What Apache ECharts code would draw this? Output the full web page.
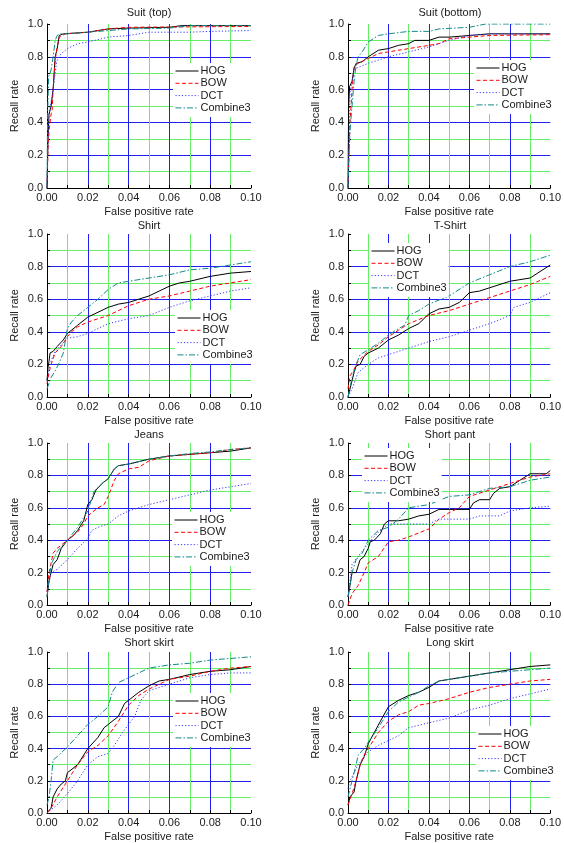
<!DOCTYPE html>
<html>
<head>
<meta charset="utf-8">
<script src="https://cdn.jsdelivr.net/npm/echarts@6/dist/echarts.min.js"></script>
<style>html,body{margin:0;padding:0;background:#fff}#c{width:564px;height:843px}</style>
</head>
<body>
<div id="c"></div>
<script>
const seriesNames = ['HOG', 'BOW', 'DCT', 'Combine3'];
const panelTitles = ['Suit (top)', 'Suit (bottom)', 'Shirt', 'T-Shirt', 'Jeans', 'Short pant', 'Short skirt', 'Long skirt'];
const xTickLabels = ['0.00', '', '0.02', '', '0.04', '', '0.06', '', '0.08', '', '0.10'];
const yTickLabels = ['0.0', '', '0.2', '', '0.4', '', '0.6', '', '0.8', '', '1.0'];

// Suit (top)
const suitTopHOG = [[0,0],[0.0005,0.3],[0.001,0.45],[0.002,0.5],[0.003,0.6],[0.004,0.8],[0.005,0.85],[0.006,0.93],[0.008,0.94],[0.02,0.95],[0.03,0.97],[0.04,0.975],[0.06,0.98],[0.066,0.99],[0.1,0.99]];
const suitTopBOW = [[0,0],[0.0005,0.25],[0.001,0.35],[0.002,0.45],[0.0025,0.47],[0.003,0.6],[0.004,0.78],[0.005,0.86],[0.006,0.92],[0.009,0.94],[0.02,0.95],[0.03,0.97],[0.04,0.98],[0.1,0.985]];
const suitTopDCT = [[0,0],[0.0005,0.3],[0.001,0.45],[0.003,0.6],[0.0045,0.75],[0.005,0.78],[0.007,0.82],[0.01,0.85],[0.015,0.88],[0.02,0.89],[0.03,0.92],[0.04,0.93],[0.05,0.95],[0.07,0.95],[0.08,0.955],[0.1,0.96]];
const suitTopC3 = [[0,0],[0.0003,0.45],[0.0008,0.68],[0.0015,0.7],[0.002,0.72],[0.003,0.8],[0.004,0.9],[0.005,0.93],[0.006,0.94],[0.01,0.94],[0.02,0.95],[0.03,0.96],[0.04,0.97],[0.06,0.975],[0.07,0.99],[0.1,0.99]];
// Suit (bottom)
const suitBotHOG = [[0,0],[0.0003,0.5],[0.0008,0.62],[0.002,0.65],[0.003,0.73],[0.004,0.76],[0.007,0.77],[0.01,0.8],[0.015,0.84],[0.02,0.85],[0.025,0.87],[0.03,0.88],[0.033,0.9],[0.04,0.9],[0.045,0.92],[0.05,0.92],[0.06,0.93],[0.07,0.94],[0.1,0.94]];
const suitBotBOW = [[0,0],[0.0005,0.2],[0.001,0.4],[0.002,0.6],[0.003,0.74],[0.005,0.76],[0.01,0.79],[0.015,0.82],[0.02,0.83],[0.03,0.85],[0.04,0.87],[0.045,0.88],[0.05,0.91],[0.06,0.92],[0.07,0.93],[0.1,0.935]];
const suitBotDCT = [[0,0],[0.0005,0.3],[0.001,0.58],[0.002,0.65],[0.003,0.72],[0.004,0.73],[0.01,0.76],[0.02,0.8],[0.03,0.83],[0.04,0.86],[0.045,0.88],[0.05,0.9],[0.06,0.93],[0.07,0.94],[0.1,0.94]];
const suitBotC3 = [[0,0],[0.0005,0.2],[0.001,0.35],[0.002,0.5],[0.003,0.65],[0.004,0.75],[0.005,0.8],[0.007,0.83],[0.01,0.89],[0.015,0.93],[0.02,0.94],[0.03,0.955],[0.04,0.955],[0.045,0.97],[0.06,0.98],[0.068,1.0],[0.1,1.0]];
// Shirt
const shirtHOG = [[0,0.1],[0.0005,0.18],[0.001,0.22],[0.0015,0.27],[0.003,0.28],[0.005,0.31],[0.008,0.35],[0.01,0.39],[0.015,0.44],[0.02,0.49],[0.025,0.52],[0.03,0.55],[0.035,0.57],[0.04,0.58],[0.045,0.6],[0.05,0.62],[0.055,0.65],[0.06,0.68],[0.065,0.7],[0.07,0.71],[0.08,0.74],[0.09,0.76],[0.1,0.77]];
const shirtBOW = [[0,0.08],[0.001,0.15],[0.002,0.2],[0.004,0.27],[0.007,0.31],[0.01,0.37],[0.012,0.4],[0.015,0.43],[0.02,0.46],[0.03,0.5],[0.04,0.56],[0.05,0.6],[0.06,0.62],[0.07,0.65],[0.08,0.68],[0.09,0.7],[0.1,0.72]];
const shirtDCT = [[0,0.1],[0.001,0.17],[0.002,0.22],[0.004,0.28],[0.007,0.32],[0.01,0.36],[0.015,0.37],[0.02,0.39],[0.025,0.42],[0.03,0.45],[0.04,0.48],[0.05,0.5],[0.06,0.55],[0.07,0.59],[0.08,0.62],[0.09,0.65],[0.1,0.67]];
const shirtC3 = [[0,0.05],[0.002,0.12],[0.004,0.16],[0.006,0.21],[0.008,0.27],[0.01,0.42],[0.012,0.46],[0.015,0.5],[0.02,0.55],[0.025,0.6],[0.03,0.66],[0.035,0.7],[0.04,0.71],[0.05,0.73],[0.06,0.75],[0.07,0.78],[0.08,0.79],[0.09,0.81],[0.1,0.83]];
// T-Shirt
const tshirtHOG = [[0,0],[0.001,0.05],[0.002,0.1],[0.003,0.15],[0.004,0.19],[0.006,0.2],[0.008,0.25],[0.01,0.27],[0.015,0.3],[0.02,0.35],[0.025,0.38],[0.03,0.42],[0.035,0.45],[0.04,0.51],[0.045,0.54],[0.05,0.55],[0.055,0.58],[0.06,0.64],[0.065,0.65],[0.07,0.67],[0.08,0.71],[0.09,0.73],[0.1,0.81]];
const tshirtBOW = [[0,0.05],[0.001,0.13],[0.003,0.17],[0.005,0.22],[0.01,0.28],[0.015,0.32],[0.02,0.37],[0.03,0.45],[0.04,0.5],[0.05,0.53],[0.06,0.57],[0.07,0.61],[0.08,0.65],[0.09,0.69],[0.1,0.74]];
const tshirtDCT = [[0,0],[0.002,0.05],[0.005,0.15],[0.01,0.2],[0.015,0.24],[0.02,0.26],[0.03,0.3],[0.04,0.34],[0.05,0.37],[0.06,0.41],[0.07,0.45],[0.08,0.5],[0.082,0.55],[0.09,0.58],[0.1,0.64]];
const tshirtC3 = [[0,0],[0.002,0.12],[0.004,0.2],[0.006,0.26],[0.01,0.29],[0.015,0.33],[0.02,0.38],[0.025,0.42],[0.028,0.44],[0.03,0.5],[0.035,0.53],[0.04,0.57],[0.05,0.62],[0.06,0.7],[0.07,0.75],[0.08,0.8],[0.09,0.83],[0.1,0.87]];
// Jeans
const jeansHOG = [[0,0.05],[0.001,0.15],[0.002,0.2],[0.003,0.25],[0.005,0.28],[0.007,0.35],[0.01,0.4],[0.013,0.43],[0.015,0.46],[0.018,0.52],[0.02,0.62],[0.022,0.65],[0.024,0.71],[0.027,0.75],[0.03,0.78],[0.033,0.84],[0.035,0.86],[0.04,0.87],[0.05,0.9],[0.06,0.92],[0.07,0.93],[0.08,0.94],[0.09,0.95],[0.1,0.97]];
const jeansBOW = [[0,0.08],[0.001,0.2],[0.003,0.32],[0.005,0.35],[0.01,0.4],[0.015,0.45],[0.018,0.5],[0.02,0.55],[0.025,0.6],[0.028,0.62],[0.03,0.67],[0.033,0.77],[0.035,0.81],[0.04,0.84],[0.045,0.85],[0.05,0.89],[0.06,0.92],[0.07,0.93],[0.08,0.94],[0.09,0.96],[0.1,0.97]];
const jeansDCT = [[0,0.08],[0.002,0.2],[0.005,0.22],[0.01,0.28],[0.015,0.35],[0.02,0.41],[0.022,0.46],[0.025,0.48],[0.03,0.5],[0.035,0.55],[0.04,0.58],[0.05,0.62],[0.06,0.65],[0.07,0.68],[0.08,0.71],[0.09,0.73],[0.1,0.75]];
const jeansC3 = [[0,0.05],[0.002,0.25],[0.005,0.33],[0.01,0.4],[0.015,0.48],[0.02,0.58],[0.023,0.7],[0.027,0.75],[0.03,0.78],[0.033,0.84],[0.035,0.86],[0.04,0.87],[0.05,0.9],[0.06,0.92],[0.07,0.935],[0.08,0.945],[0.09,0.96],[0.1,0.97]];
// Short pant
const pantHOG = [[0,0.05],[0.001,0.12],[0.002,0.2],[0.004,0.2],[0.005,0.24],[0.006,0.28],[0.008,0.3],[0.01,0.35],[0.011,0.39],[0.013,0.4],[0.016,0.44],[0.018,0.5],[0.02,0.52],[0.025,0.52],[0.03,0.53],[0.035,0.55],[0.04,0.56],[0.045,0.59],[0.05,0.59],[0.06,0.59],[0.062,0.63],[0.065,0.65],[0.07,0.65],[0.072,0.69],[0.075,0.72],[0.08,0.73],[0.09,0.81],[0.098,0.81],[0.1,0.83]];
const pantBOW = [[0,0],[0.002,0.07],[0.005,0.12],[0.008,0.2],[0.01,0.26],[0.015,0.3],[0.02,0.39],[0.025,0.4],[0.03,0.42],[0.04,0.47],[0.045,0.53],[0.05,0.57],[0.055,0.6],[0.06,0.67],[0.07,0.71],[0.08,0.75],[0.09,0.79],[0.1,0.81]];
const pantDCT = [[0,0.05],[0.001,0.15],[0.002,0.25],[0.005,0.3],[0.01,0.38],[0.015,0.45],[0.02,0.5],[0.03,0.5],[0.04,0.5],[0.045,0.53],[0.05,0.53],[0.06,0.53],[0.065,0.55],[0.075,0.55],[0.08,0.58],[0.09,0.6],[0.1,0.61]];
const pantC3 = [[0,0.05],[0.002,0.2],[0.004,0.28],[0.007,0.32],[0.01,0.4],[0.015,0.46],[0.02,0.48],[0.025,0.53],[0.03,0.6],[0.04,0.62],[0.05,0.67],[0.06,0.68],[0.07,0.72],[0.08,0.73],[0.085,0.75],[0.09,0.77],[0.1,0.79]];
// Short skirt
const sskirtHOG = [[0,0],[0.002,0.03],[0.003,0.1],[0.005,0.15],[0.007,0.18],[0.009,0.2],[0.01,0.25],[0.015,0.3],[0.02,0.4],[0.025,0.47],[0.028,0.53],[0.03,0.55],[0.035,0.6],[0.038,0.68],[0.04,0.7],[0.045,0.75],[0.05,0.79],[0.055,0.82],[0.06,0.83],[0.07,0.86],[0.08,0.88],[0.09,0.89],[0.1,0.91]];
const sskirtBOW = [[0,0],[0.002,0.03],[0.005,0.1],[0.008,0.16],[0.01,0.2],[0.015,0.3],[0.02,0.38],[0.025,0.42],[0.03,0.48],[0.035,0.57],[0.04,0.67],[0.045,0.73],[0.05,0.77],[0.06,0.83],[0.07,0.85],[0.08,0.88],[0.09,0.9],[0.1,0.91]];
const sskirtDCT = [[0,0],[0.005,0.05],[0.01,0.12],[0.015,0.2],[0.02,0.3],[0.025,0.35],[0.03,0.37],[0.033,0.42],[0.037,0.5],[0.04,0.55],[0.043,0.6],[0.046,0.7],[0.05,0.76],[0.06,0.8],[0.07,0.84],[0.08,0.86],[0.09,0.87],[0.1,0.87]];
const sskirtC3 = [[0,0.05],[0.001,0.1],[0.002,0.2],[0.003,0.33],[0.005,0.35],[0.01,0.41],[0.015,0.48],[0.02,0.55],[0.025,0.6],[0.03,0.66],[0.032,0.75],[0.035,0.81],[0.04,0.84],[0.05,0.9],[0.06,0.92],[0.07,0.93],[0.08,0.95],[0.09,0.96],[0.1,0.97]];
// Long skirt
const lskirtHOG = [[0,0.05],[0.001,0.1],[0.003,0.13],[0.004,0.2],[0.006,0.3],[0.008,0.35],[0.01,0.43],[0.013,0.5],[0.016,0.57],[0.02,0.66],[0.025,0.7],[0.03,0.73],[0.035,0.75],[0.04,0.78],[0.045,0.82],[0.05,0.83],[0.06,0.85],[0.07,0.87],[0.08,0.89],[0.09,0.91],[0.1,0.92]];
const lskirtBOW = [[0,0.05],[0.002,0.12],[0.004,0.2],[0.006,0.3],[0.008,0.36],[0.01,0.4],[0.015,0.5],[0.02,0.57],[0.025,0.61],[0.03,0.63],[0.035,0.67],[0.04,0.68],[0.05,0.71],[0.06,0.75],[0.07,0.78],[0.08,0.8],[0.09,0.82],[0.1,0.83]];
const lskirtDCT = [[0,0.15],[0.001,0.2],[0.003,0.25],[0.005,0.3],[0.01,0.38],[0.015,0.42],[0.02,0.45],[0.025,0.48],[0.03,0.53],[0.04,0.56],[0.05,0.59],[0.06,0.64],[0.07,0.67],[0.08,0.71],[0.09,0.74],[0.1,0.77]];
const lskirtC3 = [[0,0.1],[0.002,0.2],[0.004,0.3],[0.005,0.36],[0.008,0.4],[0.01,0.44],[0.015,0.53],[0.02,0.63],[0.025,0.69],[0.03,0.72],[0.035,0.75],[0.04,0.79],[0.045,0.82],[0.05,0.83],[0.06,0.85],[0.07,0.87],[0.08,0.88],[0.09,0.89],[0.1,0.9]];

const panelData = [
  [suitTopHOG, suitTopBOW, suitTopDCT, suitTopC3],
  [suitBotHOG, suitBotBOW, suitBotDCT, suitBotC3],
  [shirtHOG, shirtBOW, shirtDCT, shirtC3],
  [tshirtHOG, tshirtBOW, tshirtDCT, tshirtC3],
  [jeansHOG, jeansBOW, jeansDCT, jeansC3],
  [pantHOG, pantBOW, pantDCT, pantC3],
  [sskirtHOG, sskirtBOW, sskirtDCT, sskirtC3],
  [lskirtHOG, lskirtBOW, lskirtDCT, lskirtC3]
];

// layout
const colLeft = [47, 348];
const plotW = 204;
const rowTop = [24, 234, 443, 652];
const rowH = [164, 163, 162, 162];
const titleY = [14, 227, 436, 644];
// legend: [line start x, first row center y]
const legendPos = [[175,71],[476,68],[177,318],[371,251],[174,520],[364,456],[175,701],[478,734]];

const styles = [
  {color:'#000000', type:'solid'},
  {color:'#ff0000', type:[4,2.5]},
  {color:'#3a3aff', type:[1.2,2]},
  {color:'#118a8a', type:[6,2,1.5,2]}
];
const GREEN = '#66ee66', BLUE = '#2020f0';
const splitCols = ['rgba(0,0,0,0)', GREEN, BLUE, GREEN, BLUE, GREEN, BLUE, GREEN, BLUE, GREEN, 'rgba(0,0,0,0)'];
const FONT = 'Liberation Sans, Arial, Helvetica, sans-serif';
const TXT = '#1a1a1a';

const grids = [], xAxes = [], yAxes = [], series = [], titles = [], legends = [];
for (let p = 0; p < 8; p++) {
  const r = Math.floor(p / 2), c = p % 2;
  grids.push({left: colLeft[c], top: rowTop[r], width: plotW, height: rowH[r], containLabel: false});
  xAxes.push({
    type: 'value', gridIndex: p, min: 0, max: 0.1, interval: 0.01,
    name: 'False positive rate', nameLocation: 'middle', nameGap: 18,
    nameTextStyle: {fontFamily: FONT, fontSize: 11, color: TXT},
    axisLine: {show: true, onZero: false, lineStyle: {color: '#000', width: 1}},
    axisTick: {show: true, inside: true, length: 3, lineStyle: {color: '#000'}},
    axisLabel: {fontFamily: FONT, fontSize: 11, color: TXT, margin: 4,
      formatter: (v) => xTickLabels[Math.round(v * 100)] || ''},
    splitLine: {show: true, lineStyle: {color: splitCols, width: 1}}
  });
  yAxes.push({
    type: 'value', gridIndex: p, min: 0, max: 1, interval: 0.1,
    name: 'Recall rate', nameLocation: 'middle', nameGap: 27, nameRotate: 90,
    nameTextStyle: {fontFamily: FONT, fontSize: 11, color: TXT},
    axisLine: {show: true, onZero: false, lineStyle: {color: '#000', width: 1}},
    axisTick: {show: true, inside: true, length: 3, lineStyle: {color: '#000'}},
    axisLabel: {fontFamily: FONT, fontSize: 11, color: TXT, margin: 4,
      formatter: (v) => yTickLabels[Math.round(v * 10)] || ''},
    splitLine: {show: true, lineStyle: {color: splitCols, width: 1}}
  });
  titles.push({
    text: panelTitles[p], left: colLeft[c] + plotW / 2, top: titleY[r] - 7, textAlign: 'center',
    padding: 0,
    textStyle: {fontFamily: FONT, fontSize: 11, fontWeight: 'normal', color: TXT}
  });
  legends.push({
    data: seriesNames, orient: 'vertical',
    left: legendPos[p][0] - 2, top: legendPos[p][1] - 6 - 2,
    padding: [2, 2, 3, 2], itemWidth: 23, itemHeight: 12, itemGap: 0.3,
    backgroundColor: '#ffffff', selectedMode: false,
    itemStyle: {opacity: 0, borderWidth: 0},
    lineStyle: {width: 1, opacity: 1},
    textStyle: {fontFamily: FONT, fontSize: 11, color: TXT, padding: [0, 0, 0, -3], lineHeight: 12}
  });
  for (let s = 0; s < 4; s++) {
    series.push({
      type: 'line', name: seriesNames[s], xAxisIndex: p, yAxisIndex: p,
      data: panelData[p][s], symbol: 'none', showSymbol: false, animation: false,
      lineStyle: {color: styles[s].color, type: styles[s].type, width: 1},
      itemStyle: {color: styles[s].color},
      z: 3
    });
  }
}

const chart = echarts.init(document.getElementById('c'), null, {renderer: 'canvas'});
chart.setOption({
  animation: false,
  backgroundColor: '#ffffff',
  title: titles, grid: grids, xAxis: xAxes, yAxis: yAxes, legend: legends, series: series
});
</script>
</body>
</html>
